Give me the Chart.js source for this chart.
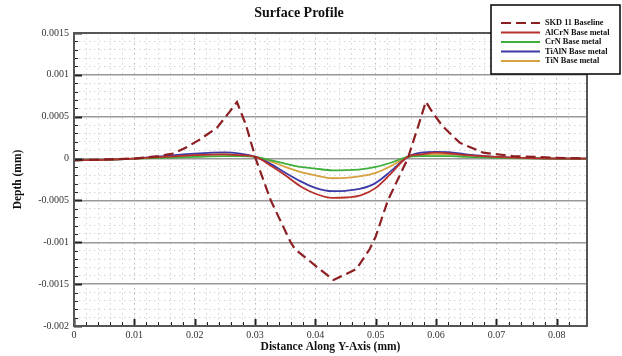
<!DOCTYPE html>
<html>
<head>
<meta charset="utf-8">
<script src="https://cdn.jsdelivr.net/npm/chart.js@4.4.0/dist/chart.umd.min.js"></script>
<style>
  html, body { margin: 0; padding: 0; background: #fff; }
  #wrap { position: relative; width: 622px; height: 356px; }
</style>
</head>
<body>
<div id="wrap"><canvas id="profileChart" width="622" height="356"></canvas></div>
<script>
// Baseline (dashed) profile
const baseX = [0, 0.005, 0.01, 0.014, 0.0164, 0.0185, 0.0209, 0.0237, 0.0258, 0.027, 0.0285, 0.0301,
  0.0326, 0.0359, 0.0366, 0.0407, 0.043, 0.0468, 0.049, 0.05, 0.052, 0.0553, 0.057, 0.0583,
  0.0595, 0.0611, 0.0639, 0.0678, 0.0727, 0.08, 0.085];
const baseY = [-0.00002, -0.00001, 0, 0.00003, 0.00006, 0.00013, 0.00023, 0.00037, 0.00056, 0.000675, 0.0004, 0,
  -0.0005, -0.001, -0.00108, -0.00132, -0.00145, -0.00132, -0.00108, -0.00093, -0.0005, 0, 0.00038, 0.00068,
  0.00054, 0.000385, 0.00019, 0.00007, 0.00003, 0.00001, 0];

// Coated samples share the same x stations
const coatX = [0, 0.005, 0.01, 0.015, 0.02, 0.025, 0.0275, 0.0301, 0.0325, 0.035, 0.0375, 0.04, 0.0428,
  0.045, 0.0475, 0.05, 0.0525, 0.0553, 0.0575, 0.06, 0.0625, 0.065, 0.07, 0.075, 0.08, 0.085];
const alcrnY = [-0.00002, -0.000015, 0, 0.00002, 0.00004, 0.00005, 0.00004, 0.00002, -0.00008, -0.0002, -0.00033,
  -0.00042, -0.00047, -0.000465, -0.00044, -0.00035, -0.00018, 0.00002, 0.00005, 0.00007, 0.00006, 0.00004,
  0.00002, 0.000005, 0, 0];
const crnY = [-0.00002, -0.000015, 0, 0.00001, 0.00002, 0.00003, 0.00003, 0.00002, -0.00002, -0.00006, -0.0001,
  -0.00012, -0.00014, -0.000138, -0.00013, -0.0001, -0.00005, 0.00002, 0.00003, 0.00003, 0.00003, 0.00002,
  0.00001, 0.000003, 0, 0];
const tialnY = [-0.00002, -0.000015, 0, 0.00003, 0.00006, 0.000075, 0.00006, 0.00002, -0.00006, -0.00017, -0.00027,
  -0.00035, -0.00039, -0.000385, -0.00036, -0.00029, -0.00015, 0.00002, 0.00007, 0.00008, 0.000075, 0.00005,
  0.00002, 0.000005, 0, 0];
const tinY = [-0.00002, -0.000015, 0, 0.00002, 0.00004, 0.00005, 0.00004, 0.00002, -0.00003, -0.0001, -0.00016,
  -0.0002, -0.000235, -0.00023, -0.00021, -0.00017, -0.00009, 0.00002, 0.00004, 0.00005, 0.00005, 0.00004,
  0.00002, 0.000005, 0, 0];

const seriesNames = ["SKD 11 Baseline", "AlCrN Base metal", "CrN Base metal", "TiAlN Base metal", "TiN Base metal"];

const xMajor = 0.01;
const yMajor = 0.0005;

function pts(xs, ys) {
  return xs.map((x, i) => ({ x: x, y: ys[i] }));
}
function isMajor(v, step) {
  return Math.abs(v / step - Math.round(v / step)) < 1e-6;
}

const serif = "'Liberation Serif', 'DejaVu Serif', serif";

// inward ticks + plot frame, title and floating legend
const decorations = {
  id: "decorations",
  afterDatasetsDraw(chart) {
    const { ctx, chartArea: a, scales } = chart;
    const x = scales.x, y = scales.y;
    ctx.save();
    ctx.strokeStyle = "#222";
    y.ticks.forEach(t => {
      const py = Math.round(y.getPixelForValue(t.value)) + 0.5;
      const major = isMajor(t.value, yMajor);
      ctx.lineWidth = major ? 2 : 1;
      ctx.beginPath();
      ctx.moveTo(a.left, py);
      ctx.lineTo(a.left + (major ? 8 : 4), py);
      ctx.stroke();
    });
    x.ticks.forEach(t => {
      const px = Math.round(x.getPixelForValue(t.value)) + 0.5;
      const major = isMajor(t.value, xMajor);
      ctx.lineWidth = major ? 2 : 1;
      ctx.beginPath();
      ctx.moveTo(px, a.bottom);
      ctx.lineTo(px, a.bottom - (major ? 7 : 4));
      ctx.stroke();
    });
    ctx.strokeStyle = "#555";
    ctx.lineWidth = 2;
    ctx.strokeRect(a.left, a.top, a.right - a.left, a.bottom - a.top);
    ctx.restore();
  },
  afterDraw(chart) {
    const ctx = chart.ctx;
    ctx.save();
    // title
    ctx.fillStyle = "#111";
    ctx.font = "bold 14px " + serif;
    ctx.textAlign = "center";
    ctx.textBaseline = "middle";
    ctx.fillText("Surface Profile", 299, 13);

    // legend box
    const bx = 491, by = 5, bw = 129, bh = 69;
    ctx.fillStyle = "#fff";
    ctx.fillRect(bx, by, bw, bh);
    ctx.strokeStyle = "#000";
    ctx.lineWidth = 1.5;
    ctx.strokeRect(bx, by, bw, bh);
    ctx.font = "bold 8.3px " + serif;
    ctx.textAlign = "left";
    chart.data.datasets.forEach((ds, i) => {
      const ly = 23 + i * 9.5;
      ctx.strokeStyle = ds.borderColor;
      ctx.lineWidth = ds.borderWidth;
      ctx.setLineDash(ds.borderDash || []);
      ctx.beginPath();
      ctx.moveTo(501, ly);
      ctx.lineTo(540, ly);
      ctx.stroke();
      ctx.setLineDash([]);
      ctx.fillStyle = "#111";
      ctx.fillText(ds.label, 545, ly);
    });
    ctx.restore();
  }
};

const ctx = document.getElementById("profileChart").getContext("2d");
const profileChart = new Chart(ctx, {
  type: "line",
  data: {
    datasets: [
      {
        label: seriesNames[0],
        data: pts(baseX, baseY),
        borderColor: "#8b1f22",
        borderWidth: 2.2,
        borderDash: [10, 5],
        tension: 0,
      },
      {
        label: seriesNames[1],
        data: pts(coatX, alcrnY),
        borderColor: "#b8312c",
        borderWidth: 1.8,
        cubicInterpolationMode: "monotone",
      },
      {
        label: seriesNames[2],
        data: pts(coatX, crnY),
        borderColor: "#3fae3a",
        borderWidth: 1.8,
        cubicInterpolationMode: "monotone",
      },
      {
        label: seriesNames[3],
        data: pts(coatX, tialnY),
        borderColor: "#3b3aa6",
        borderWidth: 1.8,
        cubicInterpolationMode: "monotone",
      },
      {
        label: seriesNames[4],
        data: pts(coatX, tinY),
        borderColor: "#d6a13e",
        borderWidth: 1.8,
        cubicInterpolationMode: "monotone",
      },
    ],
  },
  options: {
    responsive: false,
    animation: false,
    elements: { point: { radius: 0 } },
    layout: { padding: { left: 0, right: 35, top: 33, bottom: 0 } },
    plugins: {
      legend: { display: false },
      tooltip: { enabled: false },
    },
    scales: {
      x: {
        type: "linear",
        min: 0,
        max: 0.085,
        afterFit: s => { s.height = 30; },
        border: {
          display: false,
          dash: c => (c.tick ? [1.5, 3.5] : []),
        },
        grid: {
          drawTicks: false,
          color: c => (c.tick && isMajor(c.tick.value, xMajor) ? "#b4b4b4" : "#d4d4d4"),
          lineWidth: 1,
        },
        ticks: {
          stepSize: 0.002,
          autoSkip: false,
          maxRotation: 0,
          padding: 3,
          color: "#333",
          font: { family: serif, size: 10 },
          callback: v => (isMajor(v, xMajor) ? String(Math.round(v * 100) / 100) : ""),
        },
        title: {
          display: true,
          text: "Distance Along Y-Axis (mm)",
          color: "#111",
          font: { family: serif, size: 11.5, weight: "bold" },
          padding: { top: 0, bottom: 2 },
        },
      },
      y: {
        min: -0.002,
        max: 0.0015,
        afterFit: s => { s.width = 74; },
        border: {
          display: false,
          dash: c => (c.tick && !isMajor(c.tick.value, yMajor) ? [1.5, 3.5] : []),
        },
        grid: {
          drawTicks: false,
          color: c => (c.tick && isMajor(c.tick.value, yMajor) ? "#999999" : "#d4d4d4"),
          lineWidth: c => (c.tick && isMajor(c.tick.value, yMajor) ? 1.5 : 1),
        },
        ticks: {
          stepSize: 0.0001,
          autoSkip: false,
          padding: 5,
          color: "#333",
          font: { family: serif, size: 10 },
          callback: v => (isMajor(v, yMajor) ? String(Math.round(v * 10000) / 10000) : ""),
        },
        title: {
          display: true,
          text: "Depth (mm)",
          color: "#111",
          font: { family: serif, size: 11.5, weight: "bold" },
          padding: { top: 11, bottom: 0 },
        },
      },
    },
  },
  plugins: [decorations],
});
</script>
</body>
</html>
